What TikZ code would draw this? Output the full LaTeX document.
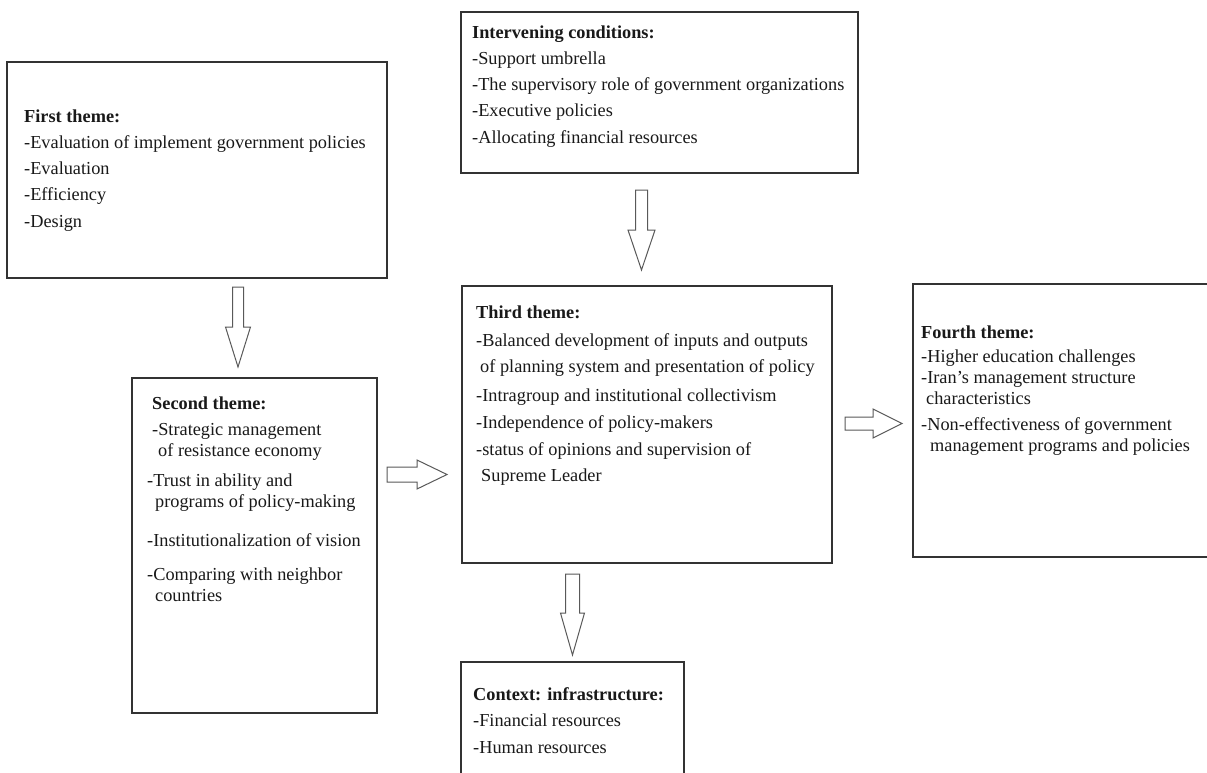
\documentclass[tikz,border=0pt]{standalone}
\usepackage{fontspec}
\setmainfont{Liberation Serif}
\usetikzlibrary{calc}
\tikzset{
  box/.style={draw=black!80, line width=1.3pt, inner sep=0pt, fill=none},
  blk/.style={draw=black!65, line width=1pt, fill=white, line join=miter},
  txt/.style={anchor=base west, inner sep=0pt, text=black!90},
}
\newcommand\mydownarrow[5]{\draw[blk] ($(#1)+(-#3,0)$) -- ($(#2)+(-#3,-#5)$) -- ($(#2)+(-#4,-#5)$) -- (#2) -- ($(#2)+(#4,-#5)$) -- ($(#2)+(#3,-#5)$) -- ($(#1)+(#3,0)$) -- cycle;}
\newcommand\myrightarrow[5]{\draw[blk] ($(#1)+(0,-#3)$) -- ($(#2)+(-#5,-#3)$) -- ($(#2)+(-#5,-#4)$) -- (#2) -- ($(#2)+(-#5,#4)$) -- ($(#2)+(-#5,#3)$) -- ($(#1)+(0,#3)$) -- cycle;}
\begin{document}
\begin{tikzpicture}[x=1pt,y=-1pt]
\path[use as bounding box] (0,0) rectangle (1207,772);
\clip (0,0) rectangle (1207,772);
\fill[white] (0,0) rectangle (1207,772);

% boxes
\node[box, minimum width=380pt, minimum height=216pt] (first) at (197,170) {};
\node[box, minimum width=397pt, minimum height=161pt] (interv) at (659.5,92.5) {};
\node[box, minimum width=245pt, minimum height=335pt] (second) at (254.5,545.5) {};
\node[box, minimum width=370pt, minimum height=277pt] (third) at (647,424.5) {};
\node[box, minimum width=296pt, minimum height=273pt] (fourth) at (1061,420.5) {};
\node[box, minimum width=223pt, minimum height=128pt] (context) at (572.5,726) {};

% texts
\node[txt] (t1) at (24,122) {\begin{minipage}[t]{370pt}\fontsize{18.3}{26.25}\selectfont
\textbf{First theme:}\\
-Evaluation of implement government policies\\
-Evaluation\\
-Efficiency\\
-Design\end{minipage}};

\node[txt] (t2) at (472,38) {\begin{minipage}[t]{380pt}\fontsize{18.3}{26.3}\selectfont
\textbf{Intervening conditions:}\\
-Support umbrella\\
-The supervisory role of government organizations\\
-Executive policies\\
-Allocating financial resources\end{minipage}};

\node[txt] (t3) at (152,409) {\begin{minipage}[t]{225pt}\fontsize{18.3}{21}\selectfont
\textbf{Second theme:}\\[5pt]
-Strategic management\\
\hspace*{6pt}of resistance economy\\[9pt]
\hspace*{-5pt}-Trust in ability and\\
\hspace*{3pt}programs of policy-making\\[18pt]
\hspace*{-5pt}-Institutionalization of vision\\[13pt]
\hspace*{-5pt}-Comparing with neighbor\\
\hspace*{3pt}countries\end{minipage}};

\node[txt] (t4) at (476,318) {\begin{minipage}[t]{350pt}\fontsize{18.3}{26}\selectfont
\textbf{Third theme:}\\[2pt]
-Balanced development of inputs and outputs\\
\hspace*{4pt}of planning system and presentation of policy\\[3pt]
-Intragroup and institutional collectivism\\[1pt]
-Independence of policy-makers\\[1pt]
-status of opinions and supervision of\\
\hspace*{5pt}Supreme Leader\end{minipage}};

\node[txt] (t5) at (921,338) {\begin{minipage}[t]{280pt}\fontsize{18.3}{21}\selectfont
\textbf{Fourth theme:}\\[3pt]
-Higher education challenges\\
-Iran’s management structure\\
\hspace*{5pt}characteristics\\[5pt]
-Non-effectiveness of government\\
\hspace*{9pt}management programs and policies\end{minipage}};

\node[txt] (t6) at (473,700) {\begin{minipage}[t]{210pt}\fontsize{18.3}{26.5}\selectfont
\textbf{Context: infrastructure:}\\
-Financial resources\\
-Human resources\end{minipage}};

% arrow end points
\coordinate (a1s) at (238,287);   \coordinate (a1e) at (238,367);
\coordinate (a2s) at (641.5,190); \coordinate (a2e) at (641.5,270);
\coordinate (a3s) at (572.5,574); \coordinate (a3e) at (572.5,655);
\coordinate (a4s) at (387,474.5); \coordinate (a4e) at (447,474.5);
\coordinate (a5s) at (845,423.5); \coordinate (a5e) at (902,423.5);

\mydownarrow{a1s}{a1e}{5.5}{12.5}{40}
\mydownarrow{a2s}{a2e}{6}{13.5}{40}
\mydownarrow{a3s}{a3e}{7}{12}{42}
\myrightarrow{a4s}{a4e}{7.5}{14.5}{30}
\myrightarrow{a5s}{a5e}{6.5}{14.5}{29}
\end{tikzpicture}
\end{document}
